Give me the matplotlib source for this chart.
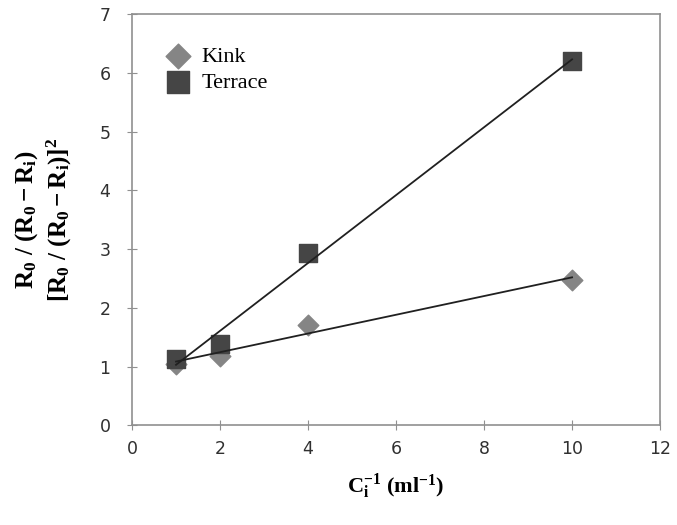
import matplotlib
matplotlib.use("Agg")
import matplotlib.pyplot as plt
import numpy as np

x_vals = [1, 2, 4, 10]
kink = [1.05, 1.18, 1.70, 2.48]
terrace = [1.12, 1.38, 2.93, 6.20]
x_ticks = [0, 2, 4, 6, 8, 10, 12]
y_ticks = [0, 1, 2, 3, 4, 5, 6, 7]

plt.rcParams["mathtext.fontset"] = "custom"
plt.rcParams["mathtext.rm"] = "Liberation Serif:bold"
plt.rcParams["mathtext.it"] = "Liberation Serif:italic:bold"
plt.rcParams["mathtext.bf"] = "Liberation Serif:bold"

fig = plt.figure(figsize=(6.77, 5.25), dpi=100)
ax = fig.add_axes([0.195, 0.19, 0.78, 0.783])

xs = np.array(x_vals, dtype=float)
line_x = np.array([xs.min(), xs.max()])
for y in (kink, terrace):
    k, b = np.polyfit(xs, y, 1)
    ax.plot(line_x, k * line_x + b, color="#202020", lw=1.3, zorder=3)

ax.scatter(x_vals, kink, marker="D", s=110, color="#858585", label="Kink", zorder=2)
ax.scatter(x_vals, terrace, marker="s", s=170, color="#454545", label="Terrace", zorder=2)

ax.set_xlim(0, 12)
ax.set_ylim(0, 7)
ax.set_xticks(x_ticks)
ax.set_yticks(y_ticks)
ax.tick_params(direction="inout", length=7, color="#909090", labelcolor="#303030",
               labelsize=12.5)
ax.tick_params(axis="x", pad=7)
ax.tick_params(axis="y", pad=12)
for s in ax.spines.values():
    s.set_color("#909090")
    s.set_linewidth(1.2)

ax.set_xlabel(r"$\mathrm{C_i^{-1}\ (ml^{-1})}$", fontsize=16, labelpad=10)
ax.set_ylabel(r"$\mathrm{R_0\ /\ (R_0 - R_i)}$" "\n" r"$\mathrm{[R_0\ /\ (R_0 - R_i)]^2}$",
              fontsize=18, labelpad=18, linespacing=1.25)

leg = ax.legend(loc="upper left", bbox_to_anchor=(0.02, 0.955), frameon=False,
                prop={"family": "Liberation Serif", "size": 16},
                handletextpad=0.05, labelspacing=0.25, borderaxespad=0.2,
                markerscale=1.2)

fig.savefig("out.png", dpi=100)
